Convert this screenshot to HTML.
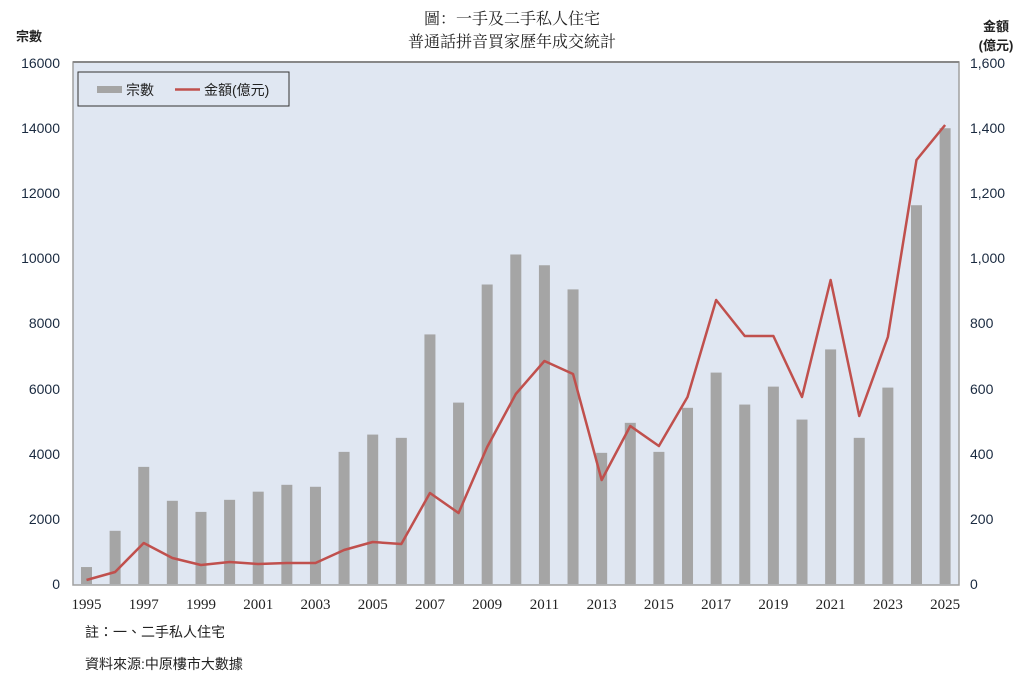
<!DOCTYPE html>
<html><head><meta charset="utf-8"><style>
body{margin:0;background:#fff;}
svg{display:block;}
text{font-family:"Liberation Sans","Noto Sans CJK TC",sans-serif;}
text.s{font-family:"Liberation Serif","Noto Serif CJK SC",serif;}
</style></head><body>
<svg width="1024" height="682" xmlns="http://www.w3.org/2000/svg">
<rect x="73" y="62" width="886" height="523" fill="#e0e7f2" stroke="#a0a0a0" stroke-width="1.5"/>
<line x1="73" y1="62" x2="959" y2="62" stroke="#888" stroke-width="2"/>
<text x="512" y="24" class="s" font-size="16" text-anchor="middle" fill="#222">圖：一手及二手私人住宅</text>
<text x="512" y="47" class="s" font-size="16" text-anchor="middle" fill="#222">普通話拼音買家歷年成交統計</text>
<text x="16" y="41" font-size="13" font-weight="bold" fill="#222">宗數</text>
<text x="996" y="31" font-size="13" font-weight="bold" text-anchor="middle" fill="#222">金額</text>
<text x="996" y="50" font-size="13" font-weight="bold" text-anchor="middle" fill="#222">(億元)</text>
<g font-size="14" fill="#1a2a40" text-anchor="end">
<text x="60" y="68">16000</text><text x="60" y="133">14000</text><text x="60" y="198">12000</text><text x="60" y="263">10000</text><text x="60" y="328">8000</text><text x="60" y="394">6000</text><text x="60" y="459">4000</text><text x="60" y="524">2000</text><text x="60" y="589">0</text>
</g>
<g font-size="14" fill="#1a2a40">
<text x="970" y="68">1,600</text><text x="970" y="133">1,400</text><text x="970" y="198">1,200</text><text x="970" y="263">1,000</text><text x="970" y="328">800</text><text x="970" y="394">600</text><text x="970" y="459">400</text><text x="970" y="524">200</text><text x="970" y="589">0</text>
</g>
<g fill="#a5a5a5" id="bars"></g>
<g font-size="15" fill="#222" text-anchor="middle" id="xl"></g>
<polyline id="ln" fill="none" stroke="#c0504d" stroke-width="2.5" stroke-linejoin="round"/>
<rect x="78" y="72" width="211" height="34" fill="#e0e7f2" stroke="#333" stroke-width="1"/>
<rect x="97" y="86" width="25" height="7" fill="#a5a5a5"/>
<text x="126" y="95" font-size="14" fill="#222">宗數</text>
<line x1="175" y1="89.5" x2="200" y2="89.5" stroke="#c0504d" stroke-width="2.5"/>
<text x="204" y="95" font-size="14" fill="#222">金額(億元)</text>
<text x="85" y="637" font-size="14" fill="#222">註：一、二手私人住宅</text>
<text x="85" y="669" font-size="14" fill="#222">資料來源:中原樓市大數據</text>
</svg>
<script>
var v=[520,1630,3590,2550,2210,2580,2830,3040,2980,4050,4580,4480,7650,5560,9180,10100,9770,9030,4020,4940,4050,5400,6480,5500,6050,5040,7190,4480,6020,11610,13970];
var ly=[580,572,543,558,565,562,564,563,563,550,542,544,493,513,447,394,361,374,480,426,446,397,300,336,336,397,280,416,337,160,125];
var ns="http://www.w3.org/2000/svg",b=document.getElementById("bars"),xl=document.getElementById("xl"),pts=[];
for(var i=0;i<31;i++){var cx=86.5+i*28.62;var h=v[i]/16000*522;
var r=document.createElementNS(ns,"rect");r.setAttribute("x",cx-5.5);r.setAttribute("y",584-h);r.setAttribute("width",11);r.setAttribute("height",h);b.appendChild(r);
pts.push(cx+","+ly[i]);
if(i%2==0){var t=document.createElementNS(ns,"text");t.setAttribute("class","s");t.setAttribute("x",cx);t.setAttribute("y",609);t.textContent=1995+i;xl.appendChild(t);}}
document.getElementById("ln").setAttribute("points",pts.join(" "));
</script>
</body></html>
